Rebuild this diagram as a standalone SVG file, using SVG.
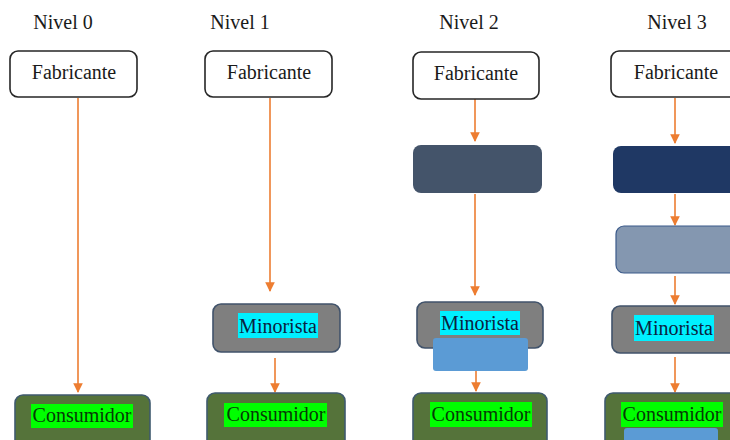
<svg xmlns="http://www.w3.org/2000/svg" width="730" height="440" viewBox="0 0 730 440">
<style>
text{font-family:"Liberation Serif","Times New Roman",serif;font-size:20px;text-anchor:middle;fill:#1a1a1a}
.fab{fill:#ffffff;stroke:#262626;stroke-width:1.6}
.min{fill:#7f7f7f;stroke:#41536b;stroke-width:1.6}
.con{fill:#55733a;stroke:#3f5a6e;stroke-width:1.6}
.hc{fill:#00f0ff}
.hg{fill:#00ff00}
.tc{fill:#0a2240}
.tg{fill:#063a06}
.d2{fill:#44546a}
.d3{fill:#1f3864}
.lb{fill:#8497b0;stroke:#3b5a8a;stroke-width:1.2}
.bl{fill:#5b9bd5}
.cn line{stroke:#ed7d31;stroke-width:1.6;marker-end:url(#ah)}
</style>
<defs>
<marker id="ah" viewBox="0 0 10 10" refX="9" refY="5" markerWidth="6" markerHeight="6" orient="auto" markerUnits="strokeWidth">
<path d="M0,0 L10,5 L0,10 z" fill="#ed7d31"/>
</marker>
</defs>
<rect width="730" height="440" fill="#ffffff"/>
<g id="labels">
<text x="63" y="29">Nivel 0</text>
<text x="240" y="29">Nivel 1</text>
<text x="469" y="29">Nivel 2</text>
<text x="677" y="29">Nivel 3</text>
</g>
<g class="cn" id="connectors">
<line x1="78" y1="98" x2="78" y2="392"/>
<line x1="270" y1="98" x2="270" y2="291"/>
<line x1="275" y1="358" x2="275" y2="392"/>
<line x1="475" y1="99" x2="475" y2="141"/>
<line x1="475" y1="194" x2="475" y2="295"/>
<line x1="476" y1="355" x2="476" y2="391"/>
<line x1="675" y1="98" x2="675" y2="143"/>
<line x1="675" y1="194" x2="675" y2="225"/>
<line x1="675" y1="276" x2="675" y2="304"/>
<line x1="675" y1="357" x2="675" y2="392"/>
</g>
<g id="fab0"><rect class="fab" x="10" y="51" width="127" height="46" rx="8"/><text x="74" y="79">Fabricante</text></g>
<g id="con0"><rect class="con" x="15" y="395" width="135" height="60" rx="8"/><rect class="hg" x="31" y="404" width="102" height="24"/><text class="tg" x="82" y="422">Consumidor</text></g>
<g id="fab1"><rect class="fab" x="205" y="51" width="127" height="46" rx="8"/><text x="269" y="79">Fabricante</text></g>
<g id="min1"><rect class="min" x="213" y="304" width="127" height="48" rx="8"/><rect class="hc" x="238" y="313" width="80" height="25"/><text class="tc" x="278" y="333">Minorista</text></g>
<g id="con1"><rect class="con" x="207" y="393" width="138" height="60" rx="8"/><rect class="hg" x="224" y="403" width="103" height="24"/><text class="tg" x="276" y="421">Consumidor</text></g>
<g id="fab2"><rect class="fab" x="413" y="52" width="126" height="47" rx="8"/><text x="476" y="80">Fabricante</text></g>
<g id="mid2"><rect class="d2" x="413" y="145" width="129" height="48" rx="8"/></g>
<g id="min2"><rect class="min" x="417" y="302" width="126" height="46" rx="8"/><rect class="hc" x="440" y="311" width="80" height="24"/><text class="tc" x="480" y="330">Minorista</text></g>
<g id="blue2"><rect class="bl" x="433" y="338" width="95" height="33" rx="3"/></g>
<g id="con2"><rect class="con" x="413" y="393" width="134" height="60" rx="8"/><rect class="hg" x="430" y="402" width="102" height="25"/><text class="tg" x="481" y="421">Consumidor</text></g>
<g id="fab3"><rect class="fab" x="611" y="51" width="127" height="46" rx="8"/><text x="676" y="79">Fabricante</text></g>
<g id="mid3a"><rect class="d3" x="613" y="146" width="130" height="47" rx="8"/></g>
<g id="mid3b"><rect class="lb" x="616" y="226" width="127" height="47" rx="8"/></g>
<g id="min3"><rect class="min" x="612" y="306" width="130" height="47" rx="8"/><rect class="hc" x="634" y="315" width="80" height="26"/><text class="tc" x="674" y="335">Minorista</text></g>
<g id="con3"><rect class="con" x="605" y="393" width="140" height="60" rx="8"/><rect class="hg" x="621" y="402" width="102" height="25"/><text class="tg" x="672" y="421">Consumidor</text></g>
<g id="blue3"><rect class="bl" x="624" y="428" width="94" height="20" rx="3"/></g>
</svg>
